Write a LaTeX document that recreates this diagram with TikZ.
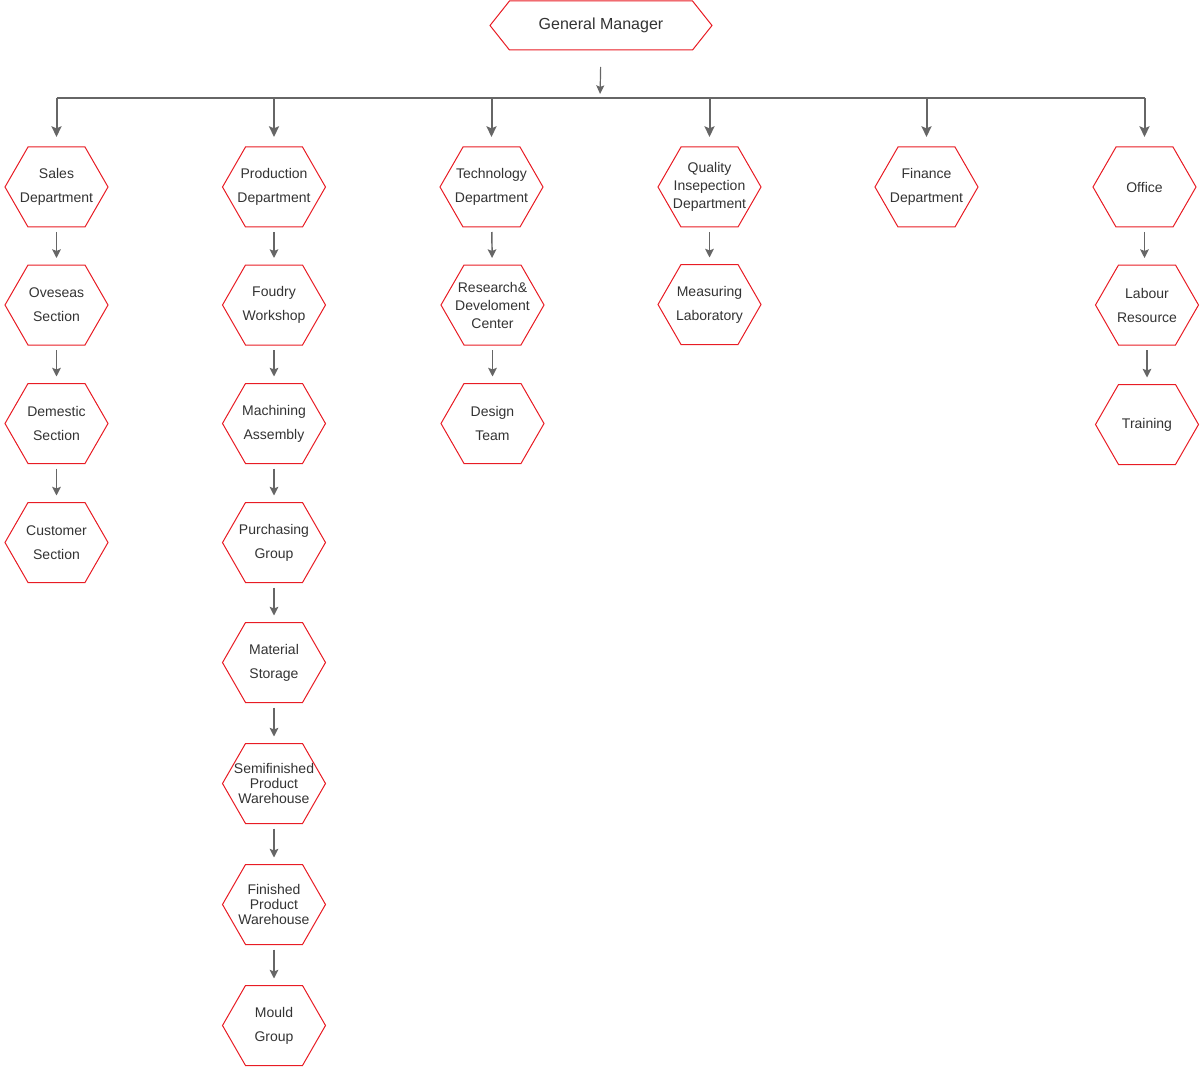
\documentclass[tikz,border=0pt]{standalone}
\usepackage{fontspec}
\setmainfont{Liberation Sans}
\usetikzlibrary{arrows.meta}

\definecolor{hexred}{RGB}{232,28,36}
\definecolor{linegray}{RGB}{102,102,102}
\definecolor{textgray}{RGB}{51,51,51}

\tikzset{every picture/.style={line width=0.75pt}}
\tikzset{
  hexa/.style={draw=none, inner sep=0pt, outer sep=0pt, align=center, text=textgray,
    minimum width=77.25pt, minimum height=60pt, font=\fontsize{10.5}{18}\selectfont},
  hexmid/.style={hexa, font=\fontsize{10.5}{13.5}\selectfont},
  hextight/.style={hexa, font=\fontsize{10.5}{11.25}\selectfont},
  hexline/.style={draw=hexred, line width=0.75pt, line join=miter},
  link/.style={draw=linegray, line width=1.1pt, -{Stealth[length=6.5pt,width=6.5pt,inset=1.2pt]},
    shorten <=3.75pt, shorten >=5.25pt},
  drop/.style={draw=linegray, line width=1.5pt, -{Stealth[length=8pt,width=7.5pt,inset=1.5pt]},
    shorten >=7.5pt},
  busline/.style={draw=linegray, line width=1.5pt}
}

% red hexagon round a named node: #1 = side inset, #2 = node
\newcommand{\hexshape}[2][17.25pt]{%
  \draw[hexline] (#2.west) -- ([xshift=#1]#2.north west) -- ([xshift=-#1]#2.north east)
    -- (#2.east) -- ([xshift=-#1]#2.south east) -- ([xshift=#1]#2.south west) -- cycle;}

\begin{document}
\begin{tikzpicture}[x=0.75pt,y=0.75pt,yscale=-1,xscale=1]
\useasboundingbox (0,0) rectangle (1200,1070);

% General Manager
\node [hexa, minimum width=166.5pt, minimum height=36.75pt, font=\fontsize{12}{14}\selectfont] (gm) at (601,25.5) {General Manager};
\hexshape[14.6pt]{gm}
\coordinate (bus) at (600,98);

% Sales column
\node [hexa] (sales) at (56.5,187) {Sales\\Department};
\node [hexa] (overseas) at (56.5,305) {Oveseas\\Section};
\node [hexa] (domestic) at (56.5,423.5) {Demestic\\Section};
\node [hexa] (customer) at (56.5,542.5) {Customer\\Section};

% Production column
\node [hexa] (production) at (274,187) {Production\\Department};
\node [hexa] (foundry) at (274,305) {Foudry\\Workshop};
\node [hexa] (machining) at (274,423.5) {Machining\\Assembly};
\node [hexa] (purchasing) at (274,542.5) {Purchasing\\Group};
\node [hexa] (material) at (274,662.5) {Material\\Storage};
\node [hextight] (semifinished) at (274,783.5) {Semifinished\\Product\\Warehouse};
\node [hextight] (finished) at (274,904.5) {Finished\\Product\\Warehouse};
\node [hexa] (mould) at (274,1025.5) {Mould\\Group};

% Technology column
\node [hexa] (technology) at (491.5,187) {Technology\\Department};
\node [hexmid] (research) at (492.5,305) {Research\&\\Develoment\\Center};
\node [hexa] (design) at (492.5,423.5) {Design\\Team};

% Quality column
\node [hexmid] (quality) at (709.5,187) {Quality\\Insepection\\Department};
\node [hexa] (measuring) at (709.5,304.5) {Measuring\\Laboratory};

% Finance
\node [hexa] (finance) at (926.5,187) {Finance\\Department};

% Office column
\node [hexa] (office) at (1144.5,187) {Office};
\node [hexa] (labour) at (1147,305) {Labour\\Resource};
\node [hexa] (training) at (1147,424.5) {Training};

% hexagon frames
\foreach \n in {sales,overseas,domestic,customer,production,foundry,machining,purchasing,material,semifinished,finished,mould,technology,research,design,quality,measuring,finance,office,labour,training}
  \hexshape{\n};

% manager to bus
\draw [draw=linegray, line width=0.9pt, -{Stealth[length=6.5pt,width=6pt,inset=1.2pt]}, shorten <=12.75pt, shorten >=3pt] (gm.south) -- (bus);
\draw [busline] (bus -| sales.north) -- (bus -| office.north);

% drops from bus
\foreach \n in {sales,production,technology,quality,finance,office}
  \draw [drop] (bus -| \n.north) -- (\n.north);

% links down the columns
\draw [link] (sales) -- (overseas);
\draw [link] (overseas) -- (domestic);
\draw [link] (domestic) -- (customer);
\draw [link] (production) -- (foundry);
\draw [link] (foundry) -- (machining);
\draw [link] (machining) -- (purchasing);
\draw [link] (purchasing) -- (material);
\draw [link] (material) -- (semifinished);
\draw [link] (semifinished) -- (finished);
\draw [link] (finished) -- (mould);
\draw [link] (technology) -- (research);
\draw [link] (research) -- (design);
\draw [link] (quality) -- (measuring);
\draw [link] (office.south) -- (office.south |- labour.north);
\draw [link] (labour) -- (training);

\end{tikzpicture}
\end{document}
